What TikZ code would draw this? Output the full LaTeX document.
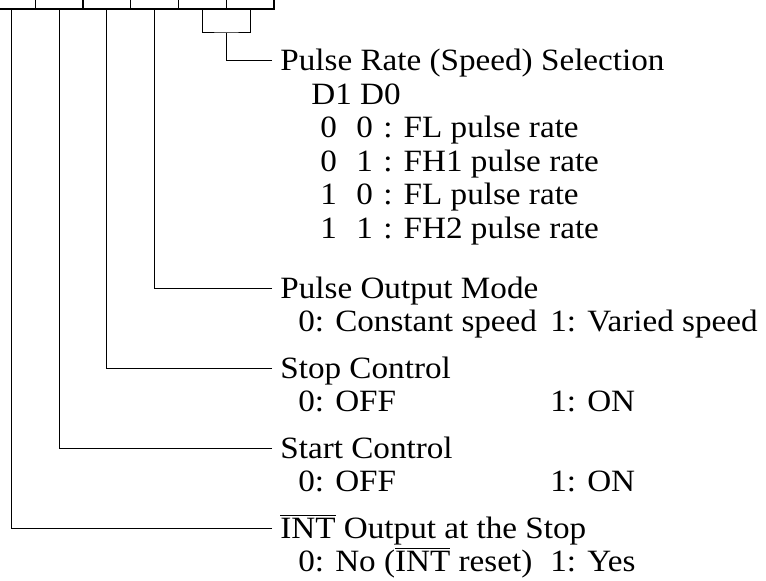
\documentclass[tikz,border=0pt]{standalone}
\usepackage{fontspec}
\setmainfont{Liberation Serif}[FakeStretch=1.07]

\begin{document}
\begin{tikzpicture}[x=0.5pt,y=-0.5pt,
    every node/.style={anchor=west,inner sep=0pt,text height=10pt,text depth=0pt,
        font=\fontsize{15.5pt}{18pt}\selectfont},
    head/.style={inner xsep=4pt},
    frame/.style={line width=1.3pt},
    cell/.style={line width=0.5pt},
    lead/.style={line width=0.5pt}]

\useasboundingbox (0,0) rectangle (766,581);
\clip (0,0) rectangle (766,581);

% register D5..D0, only its lower edge is in view
\draw[frame] (-20,9) -- (274,9) -- (274,-20);
\draw[frame] (83,9) -- (83,-20);
\foreach \x in {35.25,130.75,178.5,226.25}
    \draw[cell] (\x,9) -- (\x,-20);
\foreach \i in {0,...,5}
    \coordinate (d\i) at ({250.1-47.75*\i},9);
\coordinate (d10) at (226.25,33);

% D1 D0
\node[head] (rate) at (272,61) {Pulse Rate (Speed) Selection};
\node (rate0) at (311,94.5) {D1 D0};
\foreach \a/\b/\f [count=\r] in {0/0/FL, 0/1/FH1, 1/0/FL, 1/1/FH2}{
    \node (r\r a) at (320,94.5+33.5*\r) {\a};
    \node (r\r b) at (356,94.5+33.5*\r) {\b};
    \node (r\r f) at (383,94.5+33.5*\r) {: \f\ pulse rate};
}

% D2
\node[head] (mode) at (272,289) {Pulse Output Mode};
\node (mode0) at (298,322) {0: Constant speed};
\node (mode1) at (550,322) {1: Varied speed};

% D3
\node[head] (stop) at (272,369) {Stop Control};
\node (stop0) at (298,402) {0: OFF};
\node (stop1) at (550,402) {1: ON};

% D4
\node[head] (start) at (272,449) {Start Control};
\node (start0) at (298,482) {0: OFF};
\node (start1) at (550,482) {1: ON};

% D5
\node[head] (int) at (272,529) {$\overline{\mbox{INT}}$ Output at the Stop};
\node (int0) at (298,562) {0: No ($\overline{\mbox{INT}}$ reset)};
\node (int1) at (550,562) {1: Yes};

% leads
\draw[lead] (d1) |- (d10) -| (d0);
\draw[lead] (rate.west) -| (d10);
\foreach \i/\n in {2/mode, 3/stop, 4/start, 5/int}
    \draw[lead] (\n.west) -| (d\i);

\end{tikzpicture}
\end{document}
